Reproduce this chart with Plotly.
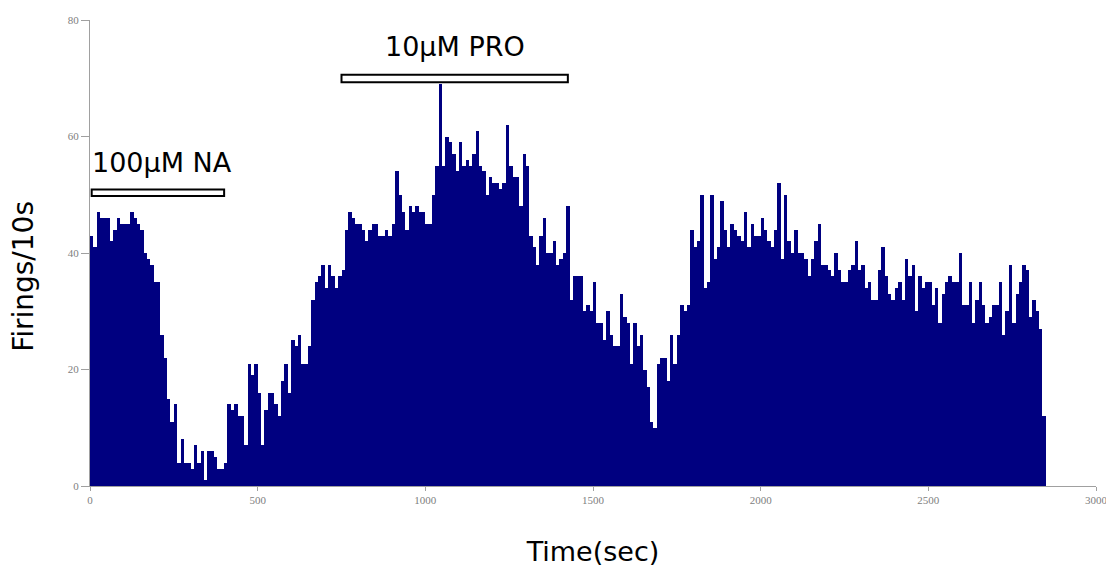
import plotly.graph_objects as go

# ---- data ----
bin_width_s = 10
firings_per_10s = [
    43, 41, 47, 46, 46, 46, 42, 44, 46, 45,
    45, 45, 47, 46, 45, 44, 40, 39, 38, 35,
    35, 26, 22, 15, 11, 14, 4, 8, 4, 4,
    3, 7, 4, 6, 1, 6, 6, 5, 3, 3,
    4, 14, 13, 14, 12, 12, 7, 21, 19, 21,
    16, 7, 13, 16, 16, 14, 12, 18, 21, 16,
    25, 24, 26, 21, 21, 24, 32, 35, 36, 38,
    34, 38, 36, 34, 36, 37, 44, 47, 46, 45,
    45, 44, 42, 44, 45, 45, 43, 43, 44, 43,
    45, 54, 50, 47, 44, 48, 47, 48, 47, 47,
    45, 45, 50, 55, 69, 55, 60, 59, 57, 54,
    59, 55, 56, 55, 57, 61, 55, 54, 50, 53,
    52, 52, 51, 52, 62, 55, 53, 53, 48, 57,
    55, 43, 41, 38, 43, 46, 40, 40, 42, 38,
    39, 40, 48, 32, 36, 36, 36, 30, 31, 30,
    35, 28, 28, 25, 30, 26, 24, 24, 33, 29,
    28, 21, 28, 24, 26, 20, 17, 11, 10, 21,
    22, 22, 18, 26, 21, 26, 31, 30, 31, 44,
    41, 42, 50, 34, 35, 50, 39, 41, 49, 44,
    41, 45, 44, 43, 42, 47, 41, 45, 43, 43,
    46, 44, 42, 41, 44, 52, 39, 50, 42, 40,
    44, 40, 40, 39, 36, 39, 42, 45, 38, 38,
    37, 36, 40, 37, 35, 35, 37, 38, 42, 37,
    38, 34, 35, 32, 32, 37, 41, 36, 33, 32,
    34, 35, 32, 39, 36, 38, 30, 36, 34, 35,
    35, 31, 34, 28, 33, 35, 36, 35, 35, 40,
    31, 31, 35, 28, 32, 35, 31, 28, 29, 31,
    31, 35, 26, 30, 38, 28, 33, 35, 38, 37,
    29, 32, 30, 27, 12,
]
treatment_labels = ["100µM NA", "10µM PRO"]
treatment_start_s = [5, 750]
treatment_end_s = [400, 1425]

x_ticks = [0, 500, 1000, 1500, 2000, 2500, 3000]
y_ticks = [0, 20, 40, 60, 80]

# ---- figure ----
bin_centers = [i * bin_width_s + bin_width_s / 2 for i in range(len(firings_per_10s))]

fig = go.Figure()
fig.add_trace(go.Bar(
    x=bin_centers,
    y=firings_per_10s,
    width=bin_width_s,
    marker=dict(color="#000080", line=dict(width=0)),
    hoverinfo="x+y",
))

# treatment bars (open rectangles) and their labels
bar_levels = [(49.8, 50.9), (69.3, 70.6)]
label_y = [55.6, 75.4]
label_anchor = ["left", "center"]
for lab, s, e, (y0, y1), ly, anc in zip(treatment_labels, treatment_start_s, treatment_end_s,
                                        bar_levels, label_y, label_anchor):
    fig.add_shape(type="rect", xref="x", yref="y", x0=s, x1=e, y0=y0, y1=y1,
                  line=dict(color="black", width=2), fillcolor="white")
    fig.add_annotation(x=(0 if anc == "left" else (s + e) / 2), y=ly, xref="x", yref="y",
                       text=lab, showarrow=False, xanchor=anc, yanchor="middle",
                       font=dict(family="DejaVu Sans", size=27, color="black"))

# y-axis title placed as a rotated annotation (sits slightly below the plot centre)
fig.add_annotation(x=-0.0655, y=0.449, xref="paper", yref="paper",
                   text="Firings/10s", textangle=-90, showarrow=False,
                   xanchor="center", yanchor="middle",
                   font=dict(family="DejaVu Sans", size=28, color="black"))

tick_font = dict(family="Liberation Serif", size=11, color="#808080")
# the page body adds an 8px offset, so the figure is sized/margined to compensate
fig.update_layout(
    width=1106, height=566,
    margin=dict(l=82, r=18, t=12, b=88),
    paper_bgcolor="white", plot_bgcolor="white",
    bargap=0, showlegend=False,
    xaxis=dict(range=[0, 3000], tickvals=x_ticks, ticks="outside", ticklen=4,
               tickcolor="#a0a0a0", showline=True, linecolor="#a0a0a0", linewidth=1,
               showgrid=False, zeroline=False, tickfont=tick_font, automargin=False,
               title=dict(text="Time(sec)", standoff=36,
                          font=dict(family="DejaVu Sans", size=27, color="black"))),
    yaxis=dict(range=[0, 80], tickvals=y_ticks, ticks="outside", ticklen=8,
               tickcolor="#a0a0a0", showline=True, linecolor="#a0a0a0", linewidth=1,
               showgrid=False, zeroline=False, tickfont=tick_font, automargin=False),
)

fig.write_html("out.html")
